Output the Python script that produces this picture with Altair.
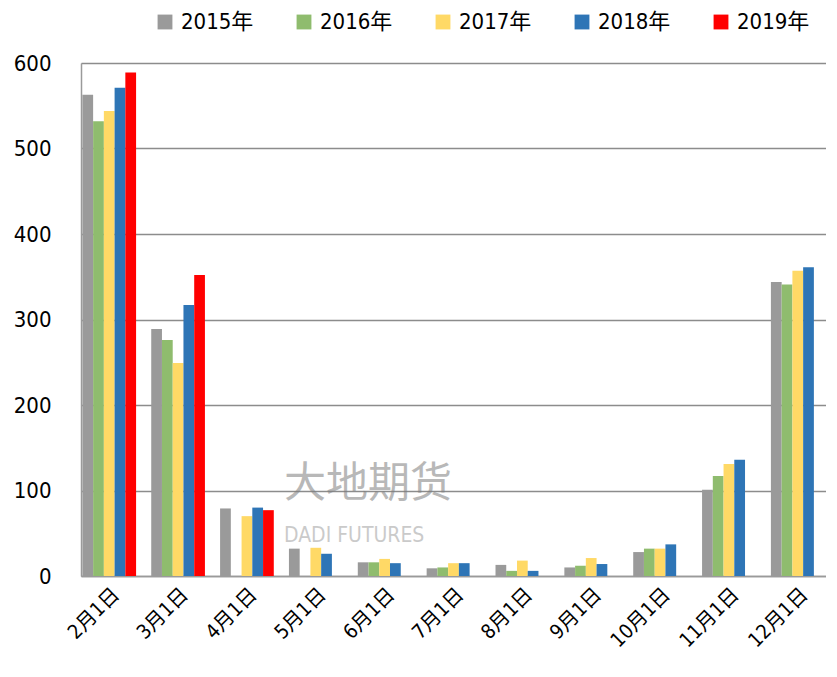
import altair as alt
import pandas as pd

months = ["2月1日", "3月1日", "4月1日", "5月1日", "6月1日", "7月1日",
          "8月1日", "9月1日", "10月1日", "11月1日", "12月1日"]
years = ["2015年", "2016年", "2017年", "2018年", "2019年"]
colors = ["#9a9a9a", "#8fbc6e", "#ffd966", "#2e75b6", "#ff0000"]

v2015 = [563, 289, 79, 32, 16, 9, 13, 10, 28, 101, 344]
v2016 = [532, 276, None, None, 16, 10, 6, 12, 32, 117, 341]
v2017 = [544, 249, 70, 33, 20, 15, 18, 21, 32, 131, 357]
v2018 = [571, 317, 80, 26, 15, 15, 6, 14, 37, 136, 361]
v2019 = [589, 352, 77, None, None, None, None, None, None, None, None]

series = [v2015, v2016, v2017, v2018, v2019]
rows = []
for y, vals in zip(years, series):
    for m, v in zip(months, vals):
        if v is not None:
            rows.append({"月份": m, "年份": y, "值": v})
df = pd.DataFrame(rows)

FONT = "DejaVu Sans Condensed, Noto Sans CJK SC"

bars = alt.Chart(df).mark_bar().encode(
    x=alt.X("月份:N", sort=months, title=None,
            scale=alt.Scale(paddingInner=0.22, paddingOuter=0.02),
            axis=alt.Axis(labelAngle=-45, labelFontSize=20, labelFont=FONT,
                          labelColor="#000000", ticks=False, domainColor="#9a9a9a",
                          domainWidth=1.5, labelPadding=8)),
    xOffset=alt.XOffset("年份:N", sort=years, scale=alt.Scale(paddingInner=0, domain=years)),
    y=alt.Y("值:Q", title=None,
            scale=alt.Scale(domain=[0, 600], nice=False),
            axis=alt.Axis(values=[0, 100, 200, 300, 400, 500, 600], labelFontSize=22,
                          labelFont=FONT, labelColor="#000000", ticks=False,
                          domainColor="#9a9a9a", domainWidth=1.5, labelPadding=30,
                          gridColor="#8c8c8c", gridWidth=1.5)),
    color=alt.Color("年份:N", sort=years,
                    scale=alt.Scale(domain=years, range=colors),
                    legend=alt.Legend(title=None, orient="none", direction="horizontal",
                                      legendX=73, legendY=-52, symbolType="square",
                                      symbolSize=220, symbolStrokeWidth=0,
                                      symbolOpacity=1,
                                      labelFontSize=22, labelFont=FONT,
                                      labelColor="#000000", columnPadding=39,
                                      labelOffset=5)),
)

wm1 = alt.Chart(pd.DataFrame({"t": ["大地期货"]})).mark_text(
    fontSize=42, font="Noto Sans CJK SC", color="#7f7f7f", opacity=0.55,
    align="left", baseline="middle"
).encode(text="t:N", x=alt.value(203), y=alt.value(421))

wm2 = alt.Chart(pd.DataFrame({"t": ["DADI FUTURES"]})).mark_text(
    fontSize=21, font="DejaVu Sans Condensed", color="#8c8c8c", opacity=0.45,
    align="left", baseline="middle"
).encode(text="t:N", x=alt.value(203), y=alt.value(473))

chart = alt.layer(bars, wm1, wm2).properties(
    width=745, height=513
).configure_view(stroke=None).configure(padding={"left": 5, "top": 3, "right": 0, "bottom": 5})

chart.save("out.html", embed_options={"renderer": "svg", "actions": False})
